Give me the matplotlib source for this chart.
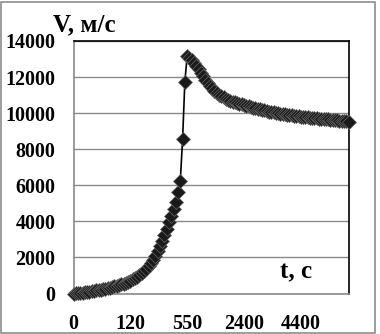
import matplotlib
matplotlib.use("Agg")
import matplotlib.pyplot as plt
from matplotlib.patches import Rectangle
import numpy as np

# Velocity values (m/s) for each recorded time step (categorical x axis)
V = [0, 10, 20, 35, 50, 65, 85, 105, 130, 155,
     180, 200, 220, 245, 270, 300, 330, 360, 390, 420,
     460, 500, 545, 600, 660, 720, 790, 860, 940, 1020,
     1110, 1220, 1350, 1500, 1680, 1880, 2100, 2350, 2620, 2920,
     3250, 3600, 3950, 4300, 4700, 5100, 5600, 6250, 8550, 11750,
     13150, 13050, 12950, 12780, 12600, 12420, 12230, 12050, 11850, 11650,
     11500, 11370, 11240, 11120, 11020, 10940, 10870, 10800, 10740, 10690,
     10640, 10600, 10560, 10520, 10480, 10450, 10410, 10380, 10340, 10310,
     10280, 10240, 10210, 10180, 10150, 10120, 10090, 10070, 10040, 10020,
     10000, 9980, 9960, 9940, 9910, 9890, 9870, 9860, 9840, 9830,
     9810, 9800, 9780, 9770, 9750, 9740, 9720, 9710, 9700, 9690,
     9670, 9660, 9650, 9640, 9620, 9610, 9600, 9580, 9570, 9560,
     9540, 9525]

# Category label positions and their time labels
t_label_idx = [0, 25, 50, 75, 100]
t_labels = ["0", "120", "550", "2400", "4400"]
y_ticks = [0, 2000, 4000, 6000, 8000, 10000, 12000, 14000]

W, H = 380, 334
fig = plt.figure(figsize=(W / 100, H / 100), dpi=100)
fig.patch.set_facecolor("white")

# outer chart border
fig.patches.append(Rectangle((1 / W, 1 / H), 374 / W, 331 / H, transform=fig.transFigure,
                             fill=False, edgecolor="#8c8c8c", linewidth=1.2))

left, right, top, bottom = 73.5, 348.5, 41, 293.5
ax = fig.add_axes([left / W, (H - bottom) / H, (right - left) / W, (bottom - top) / H])

x = np.arange(len(V))
ax.plot(x, V, color="black", linewidth=1.2, marker="D", markersize=6.8,
        markerfacecolor="#1a1a1a", markeredgecolor="#666666", markeredgewidth=0.5,
        zorder=3, clip_on=False)

ax.set_xlim(0, len(V) - 1)
ax.set_ylim(0, 14000)
ax.set_yticks(y_ticks)
ax.set_yticklabels([str(v) for v in y_ticks])
ax.yaxis.grid(True, color="#8a8a8a", linewidth=1.0)
ax.set_axisbelow(True)

ax.set_xticks(t_label_idx)
ax.set_xticklabels(t_labels)
ax.set_xticks([0, 75], minor=True)

for lab in ax.get_xticklabels() + ax.get_yticklabels():
    lab.set_fontfamily("Liberation Serif")
    lab.set_fontweight("bold")
    lab.set_fontsize(14.4)

ax.tick_params(axis="y", length=0, pad=13)
ax.tick_params(axis="x", which="major", length=0, pad=15)
ax.tick_params(axis="x", which="minor", direction="in", length=4, color="#8a8a8a")

for s in ["top", "right"]:
    ax.spines[s].set_color("black")
    ax.spines[s].set_linewidth(1.2)
for s in ["left", "bottom"]:
    ax.spines[s].set_color("#8a8a8a")
    ax.spines[s].set_linewidth(1.2)

font = dict(family="Liberation Serif", weight="bold", size=18)
fig.text(84 / W, 1 - 25 / H, "V, м/с", ha="center", va="center", **font)
fig.text(296.5 / W, 1 - 272 / H, "t, c", ha="center", va="center", **font)

fig.savefig("out.png", dpi=100)
